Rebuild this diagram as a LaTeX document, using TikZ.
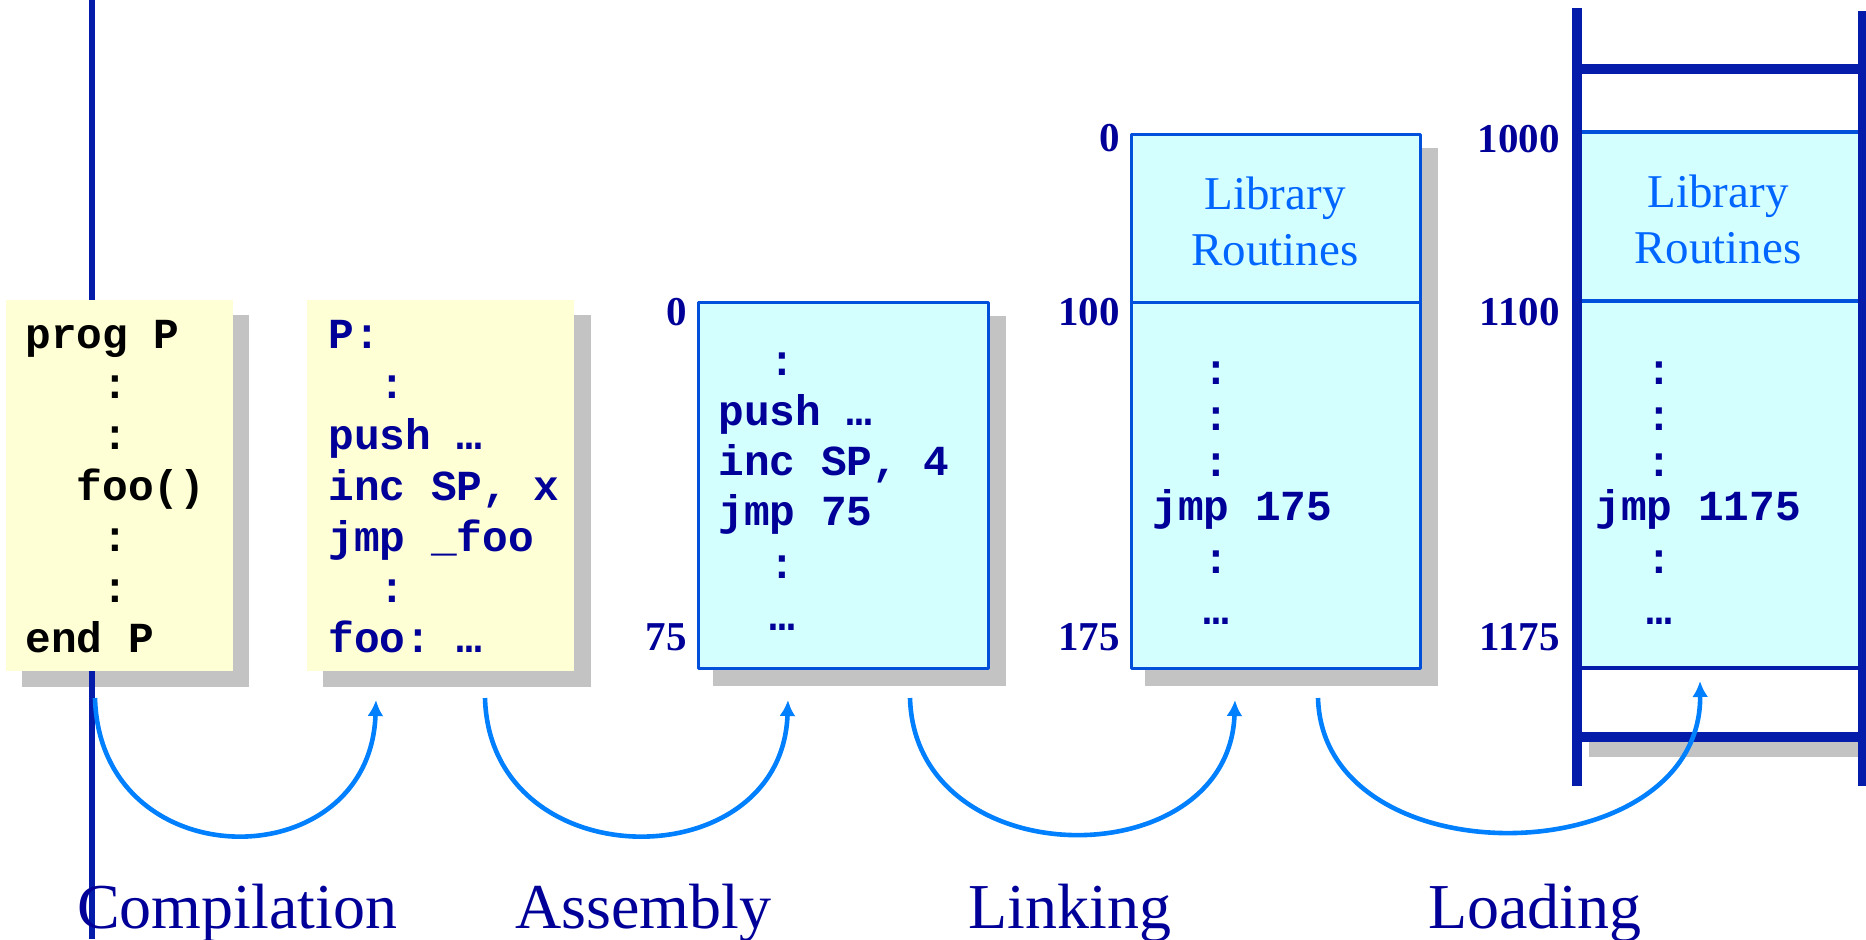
\documentclass[tikz,border=0pt]{standalone}
\usepackage{fontspec}
\setmainfont{Liberation Serif}
\setmonofont{Liberation Mono}
\usetikzlibrary{arrows.meta}
\definecolor{navy}{RGB}{0,0,153}
\definecolor{framenavy}{RGB}{5,28,170}
\definecolor{edgeblue}{RGB}{0,80,220}
\definecolor{libblue}{RGB}{0,102,255}
\definecolor{flowblue}{RGB}{0,128,255}
\definecolor{paleyellow}{RGB}{255,255,213}
\definecolor{palecyan}{RGB}{212,255,255}
\definecolor{shadowgray}{RGB}{195,195,195}

\begin{document}
\begin{tikzpicture}[x=0.5pt, y=-0.5pt, line join=round,
    code/.style={anchor=base west, inner sep=0pt, font=\ttfamily\bfseries\fontsize{21.4}{25}\selectfont},
    addr/.style={anchor=base east, inner sep=0pt, text=navy, font=\bfseries\fontsize{20.5}{24}\selectfont},
    lib/.style={anchor=base, inner sep=0pt, text=libblue, font=\fontsize{23.5}{28}\selectfont},
    phase/.style={anchor=base, inner sep=0pt, text=navy, font=\fontsize{32}{38}\selectfont},
    cell/.style={fill=palecyan, draw=edgeblue, line width=1.5pt},
    rail/.style={draw=framenavy, line width=5pt},
    flow/.style={flowblue, line width=2.3pt, -{Latex[length=8pt,width=8pt]}}]
    \useasboundingbox (0,0) rectangle (1866,939);
    \clip (0,0) rectangle (1866,939);

    % source and assembly listings
    \fill[shadowgray] (22,315) rectangle (249,687);
    \fill[shadowgray] (323,315) rectangle (591,687);
    \draw[framenavy, line width=3pt] (92,0) -- (92,939);
    \fill[paleyellow] (6,300) rectangle (233,671);
    \fill[paleyellow] (307,300) rectangle (574,671);
    \foreach \t [count=\i from 0] in {prog P, \hphantom{000}:, \hphantom{000}:, \hphantom{00}foo(), \hphantom{000}:, \hphantom{000}:, end P}
        \node[code] (src-\i) at (25,348+50.8*\i) {\t};
    \foreach \t [count=\i from 0] in {P:, \hphantom{00}:, push …, {inc SP, x}, jmp \_foo, \hphantom{00}:, foo: …}
        \node[code, text=navy] (asm-\i) at (328,348+50.8*\i) {\t};

    % object module
    \fill[shadowgray] (713,316) rectangle (1006,686);
    \draw[cell] (698,302) rectangle (988,668);
    \node[code, text=navy] (obj-0) at (718,375) {\hphantom{00}:};
    \node[code, text=navy] (obj-1) at (718,425) {push …};
    \node[code, text=navy] (obj-2) at (718,475) {inc SP, 4};
    \node[code, text=navy] (obj-3) at (718,525) {jmp 75};
    \node[code, text=navy] (obj-4) at (718,578) {\hphantom{00}:};
    \node[code, text=navy] (obj-5) at (718,630) {\hphantom{00}…};
    \node[addr] (obj-top) at (687,325) {0};
    \node[addr] (obj-end) at (687,650) {75};

    % load module
    \fill[shadowgray] (1145,148) rectangle (1438,686);
    \draw[cell] (1131,134) rectangle (1420,668);
    \draw[edgeblue, line width=1.5pt] (1131,302) -- (1420,302);
    \node[lib] (lnk-lib) at (1275,209) {Library};
    \node[lib] (lnk-rout) at (1275,265) {Routines};
    \foreach \t/\y [count=\i] in {\hphantom{00}:/384, \hphantom{00}:/430, \hphantom{00}:/476, jmp 175/520, \hphantom{00}:/573, \hphantom{00}…/624}
        \node[code, text=navy] (lnk-\i) at (1152,\y) {\t};
    \node[addr] (lnk-top) at (1120,151) {0};
    \node[addr] (lnk-mid) at (1120,325) {100};
    \node[addr] (lnk-end) at (1120,650) {175};

    % memory
    \fill[shadowgray] (1589,742) rectangle (1859,757);
    \fill[palecyan] (1577,132) rectangle (1863,668);
    \draw[edgeblue, line width=2pt] (1577,132) -- (1863,132);
    \draw[edgeblue, line width=2pt] (1577,301) -- (1863,301);
    \draw[framenavy, line width=2pt] (1577,668) -- (1863,668);
    \draw[rail] (1577,69) -- (1863,69);
    \draw[rail] (1577,737) -- (1863,737);
    \draw[rail] (1577,8) -- (1577,786);
    \draw[rail] (1863,11) -- (1863,786);
    \node[lib] (mem-lib) at (1718,207) {Library};
    \node[lib] (mem-rout) at (1718,263) {Routines};
    \foreach \t/\y [count=\i] in {\hphantom{00}:/384, \hphantom{00}:/430, \hphantom{00}:/476, jmp 1175/520, \hphantom{00}:/573, \hphantom{00}…/624}
        \node[code, text=navy] (mem-\i) at (1595,\y) {\t};
    \node[addr] (mem-top) at (1560,152) {1000};
    \node[addr] (mem-mid) at (1560,325) {1100};
    \node[addr] (mem-end) at (1560,650) {1175};

    % translation steps
    \coordinate (from1) at (95,698);
    \coordinate (to1) at (376,700);
    \coordinate (from2) at (485,698);
    \coordinate (to2) at (788,700);
    \coordinate (from3) at (910,698);
    \coordinate (to3) at (1235,700);
    \coordinate (from4) at (1318,698);
    \coordinate (to4) at (1700,681);
    \draw[flow] (from1) .. controls (100,880) and (370,880) .. (to1);
    \draw[flow] (from2) .. controls (490,880) and (782,880) .. (to2);
    \draw[flow] (from3) .. controls (915,878) and (1229,878) .. (to3);
    \draw[flow] (from4) .. controls (1323,882) and (1702,875) .. (to4);
    \node[phase] (compile) at (237,928) {Compilation};
    \node[phase] (assemble) at (643,928) {Assembly};
    \node[phase] (link) at (1070,928) {Linking};
    \node[phase] (load) at (1535,928) {Loading};
\end{tikzpicture}
\end{document}
